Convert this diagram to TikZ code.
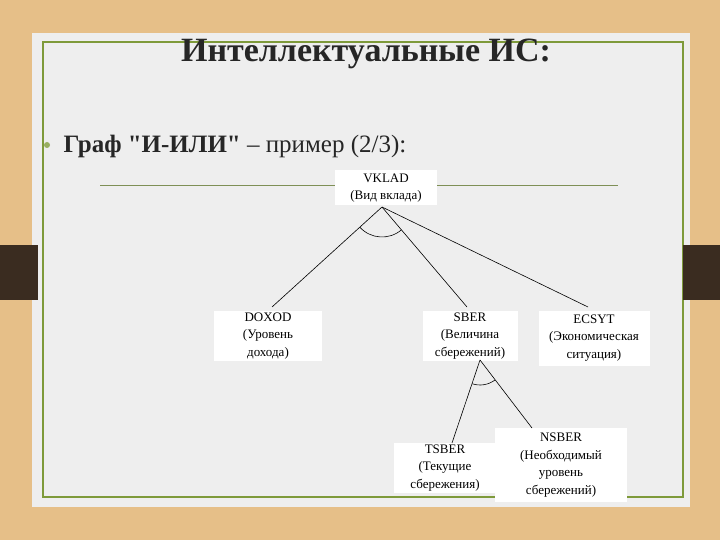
\documentclass[tikz,border=0pt]{standalone}
\usepackage{fontspec}
\setmainfont{Liberation Serif}[Ligatures=TeXOff]
\definecolor{wood}{HTML}{E6BF88}
\definecolor{slide}{HTML}{EEEEEE}
\definecolor{frame}{HTML}{7E9A3A}
\definecolor{tab}{HTML}{3A2C20}
\tikzset{
  box/.style={fill=white,draw=none,align=center,font=\fontsize{13}{17.5}\selectfont,inner sep=2pt},
  edge/.style={draw=black,line width=0.6pt}
}
\begin{document}
\begin{tikzpicture}[x=1pt,y=-1pt]
\useasboundingbox (0,0) rectangle (720,540);
\fill[wood] (0,0) rectangle (720,540);
\fill[slide] (32,33) rectangle (690,507);
\draw[frame,line width=1.2pt] (43,42) rectangle (683,497);
\fill[tab] (0,245) rectangle (38,300);
\fill[tab] (683,245) rectangle (720,300);
\node[text=black!85] (title) at (366,54) {\fontsize{34}{40}\selectfont\textbf{Интеллектуальные ИС:}};
\fill[frame!80] (47,145) circle (3);
\node[anchor=west,text=black!85] (sub) at (60,146) {\fontsize{25}{30}\selectfont\textbf{Граф "И-ИЛИ"} – пример (2/3):};
\draw[frame!60!gray,line width=0.7pt] (100,185) -- (335,185);
\draw[frame!60!gray,line width=0.7pt] (437,185) -- (618,185);
\node[box,minimum width=102,minimum height=35] (vklad) at (386,188) {VKLAD\\(Вид вклада)};
\node[box,minimum width=108,minimum height=48] (doxod) at (268,336) {DOXOD\\(Уровень\\дохода)};
\node[box,minimum width=95,minimum height=48] (sber) at (470,336) {SBER\\(Величина\\сбережений)};
\node[box,minimum width=111,minimum height=55] (ecsyt) at (594,338) {ECSYT\\(Экономическая\\ситуация)};
\node[box,minimum width=102,minimum height=50] (tsber) at (445,468) {TSBER\\(Текущие\\сбережения)};
\node[box,minimum width=132,minimum height=74] (nsber) at (561,465) {NSBER\\(Необходимый\\уровень\\сбережений)};
\coordinate (va) at (382,207);
\coordinate (sa) at (480,360);
\coordinate (d1) at (272,307);
\coordinate (s1) at (467,307);
\coordinate (e1) at (588,307);
\coordinate (t1) at (452,443);
\coordinate (n1) at (532,428);
\draw[edge] (va) -- (d1);
\draw[edge] (va) -- (s1);
\draw[edge] (va) -- (e1);
\draw[edge] (sa) -- (t1);
\draw[edge] (sa) -- (n1);
\draw[edge] (va) ++(137.7:30) arc[start angle=137.7,end angle=49.6,radius=30];
\draw[edge] (sa) ++(108.2:25) arc[start angle=108.2,end angle=53.4,radius=25];
\end{tikzpicture}
\end{document}
